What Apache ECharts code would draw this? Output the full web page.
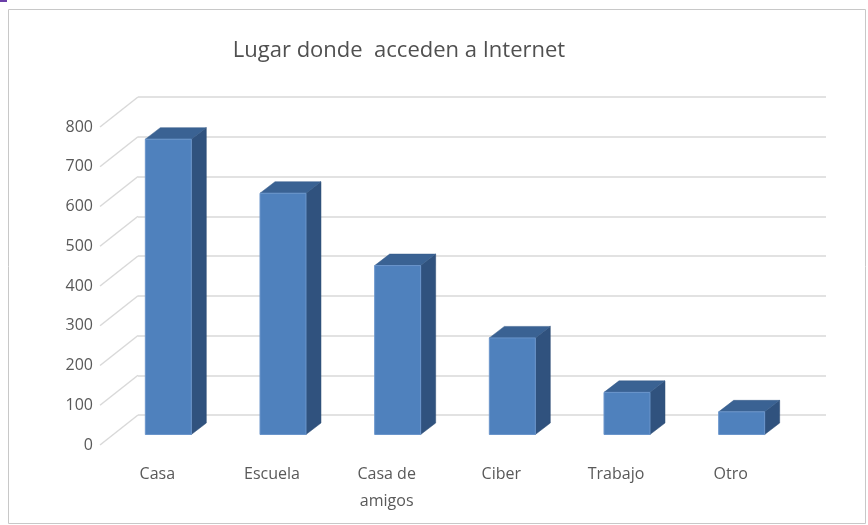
<!DOCTYPE html>
<html>
<head>
<meta charset="utf-8">
<script src="https://cdn.jsdelivr.net/npm/echarts@6/dist/echarts.min.js"></script>
<style>
html,body{margin:0;padding:0;background:#fff;}
#chart{width:868px;height:525px;}
</style>
</head>
<body>
<div id="chart"></div>
<script>
// ---- data ----
const categories = ['Casa', 'Escuela', 'Casa de\namigos', 'Ciber', 'Trabajo', 'Otro'];
const values = [743, 607, 425, 243, 106, 57];
const yTicks = [0, 100, 200, 300, 400, 500, 600, 700, 800];
const titleText = 'Lugar donde  acceden a Internet';

// ---- style / geometry (not data) ----
const DEPTH = [-38, 30];      // back wall -> front edge offset
const FRONT = [-27, 19.5];    // bar front face offset
const BACK = [-12, 8];        // bar back face offset
const BAR_RATIO = 0.401;
const FONT = '"Open Sans", "Liberation Sans", sans-serif';

const chart = echarts.init(document.getElementById('chart'), null, {renderer: 'canvas'});

const option = {
  backgroundColor: '#ffffff',
  animation: false,
  graphic: [
    {type: 'rect', shape: {x: 8.5, y: 9.5, width: 857, height: 514}, style: {fill: null, stroke: '#C8C8C8', lineWidth: 1}, z: 0},
    {type: 'rect', shape: {x: 0, y: 0, width: 7, height: 2}, style: {fill: '#6B3FA8'}, z: 0},
    {type: 'text', x: 399, y: 51, style: {text: titleText, fill: '#505050', font: '22px ' + FONT, align: 'center', verticalAlign: 'middle'}, z: 10}
  ],
  grid: [
    {left: 138, right: 42, top: 97, bottom: 110},
    {left: 100, right: 80, top: 127, bottom: 80}
  ],
  xAxis: [
    {type: 'category', gridIndex: 0, data: categories, boundaryGap: true,
     axisLine: {show: false}, axisTick: {show: false}, axisLabel: {show: false}, splitLine: {show: false}},
    {type: 'category', gridIndex: 1, data: categories, boundaryGap: true,
     axisLine: {show: false}, axisTick: {show: false}, splitLine: {show: false},
     axisLabel: {show: true, margin: 16, color: '#595959', fontSize: 16, fontFamily: FONT, lineHeight: 27, interval: 0}}
  ],
  yAxis: [
    {type: 'value', gridIndex: 0, min: 0, max: 800, interval: 100,
     axisLine: {show: false}, axisTick: {show: false}, axisLabel: {show: false},
     splitLine: {show: true, lineStyle: {color: '#D9D9D9', width: 1.5}}},
    {type: 'value', gridIndex: 1, min: 0, max: 800, interval: 100,
     axisLine: {show: false}, axisTick: {show: false}, splitLine: {show: false},
     axisLabel: {show: true, margin: 7, color: '#595959', fontSize: 16, fontFamily: FONT}}
  ],
  series: [
    {
      type: 'custom', xAxisIndex: 0, yAxisIndex: 0, z: 1,
      data: yTicks.map(v => [0, v]),
      renderItem: function (params, api) {
        const p = api.coord([0, api.value(1)]);
        const x = params.coordSys.x;
        return {type: 'line', shape: {x1: x, y1: p[1], x2: x + DEPTH[0], y2: p[1] + DEPTH[1]},
                style: {stroke: '#D9D9D9', lineWidth: 1.5}};
      }
    },
    {
      type: 'custom', xAxisIndex: 0, yAxisIndex: 0, z: 5,
      data: values.map((v, i) => [i, v]),
      renderItem: function (params, api) {
        const i = api.value(0), v = api.value(1);
        const top = api.coord([i, v]);
        const base = api.coord([i, 0]);
        const bw = api.size([1, 0])[0] * BAR_RATIO;
        const cx = top[0];
        const xl = cx - bw / 2, xr = cx + bw / 2;
        const fTL = [xl + FRONT[0], top[1] + FRONT[1]];
        const fTR = [xr + FRONT[0], top[1] + FRONT[1]];
        const fBR = [xr + FRONT[0], base[1] + FRONT[1]];
        const fBL = [xl + FRONT[0], base[1] + FRONT[1]];
        const bTL = [xl + BACK[0], top[1] + BACK[1]];
        const bTR = [xr + BACK[0], top[1] + BACK[1]];
        const bBR = [xr + BACK[0], base[1] + BACK[1]];
        return {
          type: 'group',
          children: [
            {type: 'polygon', shape: {points: [fTR, bTR, bBR, fBR]}, style: {fill: '#30527E', stroke: '#2B4A73', lineWidth: 0.5}},
            {type: 'polygon', shape: {points: [fTL, fTR, bTR, bTL]}, style: {fill: '#3A6293', stroke: '#355A88', lineWidth: 0.5}},
            {type: 'polygon', shape: {points: [fTL, fTR, fBR, fBL]}, style: {fill: '#4F81BD', stroke: '#6A95CB', lineWidth: 1}}
          ]
        };
      }
    }
  ]
};
chart.setOption(option);
</script>
</body>
</html>
